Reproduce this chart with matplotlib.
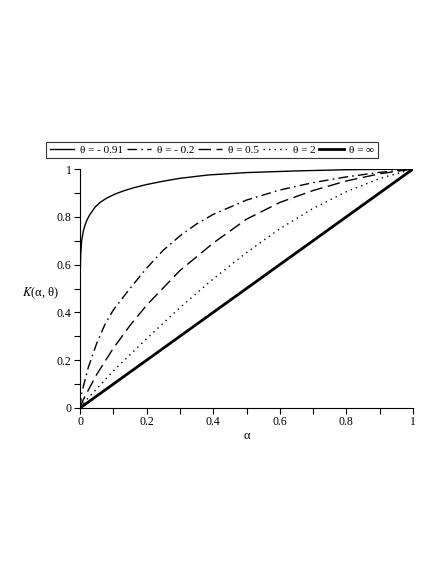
import numpy as np
import matplotlib
matplotlib.use('Agg')
import matplotlib.pyplot as plt

plt.rcParams['font.family'] = ['Liberation Serif', 'DejaVu Serif']
plt.rcParams['mathtext.fontset'] = 'stix'

# Values (alpha, K)
alpha_m091 = [0, 0.0005, 0.002, 0.005, 0.01, 0.015, 0.022, 0.03, 0.045, 0.06, 0.08,
              0.105, 0.13, 0.16, 0.2, 0.25, 0.3, 0.385, 0.5, 0.65, 0.8, 1.0]
k_m091 = [0, 0.55, 0.64, 0.70, 0.74, 0.765, 0.79, 0.81, 0.84, 0.86, 0.878,
          0.895, 0.908, 0.921, 0.935, 0.949, 0.961, 0.975, 0.985, 0.992, 0.997, 1.0]

alpha_m02 = [0, 0.005, 0.01, 0.025, 0.05, 0.075, 0.1, 0.15, 0.2, 0.25, 0.3, 0.35,
             0.4, 0.5, 0.6, 0.7, 0.8, 0.9, 1.0]
k_m02 = [0, 0.06, 0.09, 0.17, 0.27, 0.35, 0.41, 0.50, 0.585, 0.66, 0.72, 0.77,
         0.81, 0.87, 0.912, 0.943, 0.967, 0.986, 1.0]

alpha_05 = [0, 0.01, 0.025, 0.05, 0.1, 0.15, 0.2, 0.3, 0.4, 0.5, 0.6, 0.7, 0.8, 0.9, 1.0]
k_05 = [0, 0.035, 0.075, 0.14, 0.25, 0.345, 0.43, 0.575, 0.69, 0.79, 0.86, 0.91,
        0.95, 0.98, 1.0]

alpha_2 = [0, 0.02, 0.05, 0.1, 0.2, 0.3, 0.4, 0.5, 0.6, 0.7, 0.8, 0.9, 1.0]
k_2 = [0, 0.035, 0.08, 0.155, 0.29, 0.42, 0.54, 0.65, 0.75, 0.835, 0.905, 0.96, 1.0]

alpha_inf = [0, 1.0]
k_inf = [0, 1.0]

labels = ['θ = - 0.91', 'θ = - 0.2', 'θ = 0.5', 'θ = 2', 'θ = ∞']
major_ticks = [0, 0.2, 0.4, 0.6, 0.8, 1.0]
minor_ticks = [0.1, 0.3, 0.5, 0.7, 0.9]
tick_labels = ['0', '0.2', '0.4', '0.6', '0.8', '1']

fig = plt.figure(figsize=(4.47, 5.78), dpi=100)
ax = fig.add_axes([80 / 447, 1 - 408 / 578, 333 / 447, 239 / 578])

ax.plot(alpha_m091, k_m091, color='black', lw=1.0, label=labels[0])
ax.plot(alpha_m02, k_m02, color='black', lw=1.0, dashes=(7, 3, 1.2, 3), label=labels[1])
ax.plot(alpha_05, k_05, color='black', lw=1.0, dashes=(9, 4), label=labels[2])
ax.plot(alpha_2, k_2, color='black', lw=1.0, dashes=(1, 3), label=labels[3])
ax.plot(alpha_inf, k_inf, color='black', lw=2.0, label=labels[4])

ax.set_xlim(0, 1)
ax.set_ylim(0, 1)
for side in ['top', 'right']:
    ax.spines[side].set_visible(False)
for side in ['left', 'bottom']:
    ax.spines[side].set_linewidth(0.8)
ax.set_xticks(major_ticks)
ax.set_xticks(minor_ticks, minor=True)
ax.set_yticks(major_ticks)
ax.set_yticks(minor_ticks, minor=True)
ax.set_xticklabels(tick_labels)
ax.set_yticklabels(tick_labels)
ax.tick_params(which='both', direction='out', length=4, width=0.8, labelsize=8.5, pad=2)

ax.set_xlabel('α', fontsize=9, labelpad=1)
ax.set_ylabel(r'$K$(α, θ)', fontsize=9, rotation=0, ha='center', va='center')
ax.yaxis.set_label_coords(-0.12, 0.48)

leg = fig.legend(loc='center', bbox_to_anchor=(212 / 447, 1 - 150 / 578), ncol=5,
                 fontsize=8, frameon=True, fancybox=False, edgecolor='black',
                 handlelength=2.2, handletextpad=0.5, columnspacing=0.35,
                 borderpad=0.3, borderaxespad=0)
leg.get_frame().set_linewidth(0.8)

fig.savefig('out.png', dpi=100)
